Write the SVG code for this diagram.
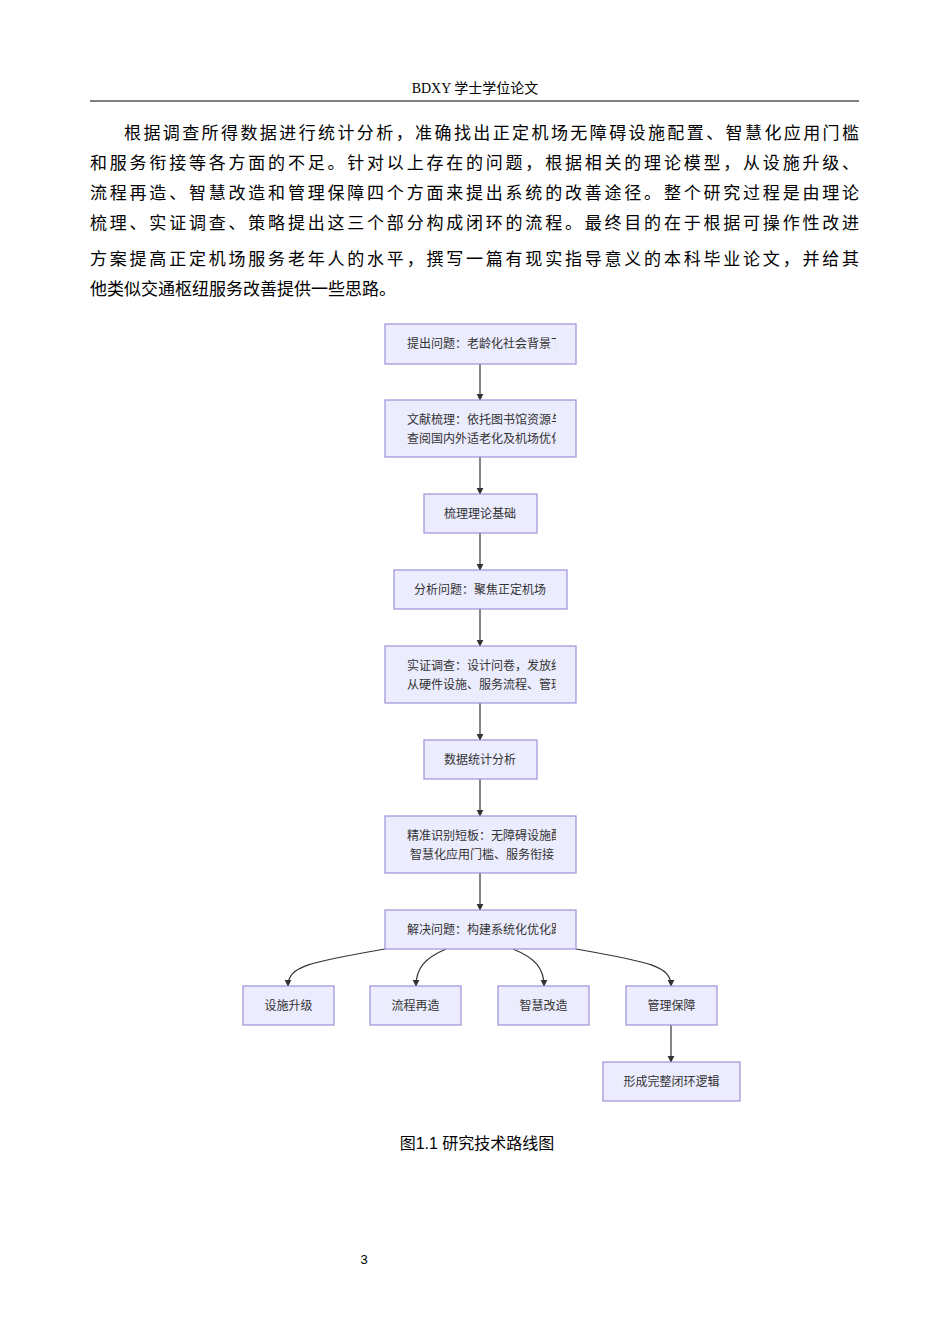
<svg xmlns="http://www.w3.org/2000/svg" width="950" height="1344" viewBox="0 0 950 1344">
<style>
.t{font-family:"Liberation Serif","Noto Sans CJK SC",serif;fill:#000}
.p{font-size:17px}
.n rect{fill:#ECECFF;stroke:#9F8FD8;stroke-width:1.2}
.n text{font-family:"Liberation Sans","Noto Sans CJK SC",sans-serif;font-size:12px;fill:#333}
.e{fill:none;stroke:#333;stroke-width:1.2;marker-end:url(#a)}
</style>
<defs>
<marker id="a" viewBox="0 0 10 10" refX="9" refY="5" markerWidth="6" markerHeight="6" orient="auto"><path d="M0,0L10,5L0,10z" fill="#333"/></marker>
<clipPath id="c1"><rect x="385" y="320" width="171" height="800"/></clipPath>
</defs>
<rect width="950" height="1344" fill="#fff"/>
<text class="t" x="475" y="93" font-size="14" text-anchor="middle">BDXY 学士学位论文</text>
<line x1="90" y1="101" x2="859" y2="101" stroke="#000" stroke-width="1"/>
<g class="t p">
<text x="124" y="139" textLength="735" lengthAdjust="spacing">根据调查所得数据进行统计分析，准确找出正定机场无障碍设施配置、智慧化应用门槛</text>
<text x="90" y="169" textLength="769" lengthAdjust="spacing">和服务衔接等各方面的不足。针对以上存在的问题，根据相关的理论模型，从设施升级、</text>
<text x="90" y="199" textLength="769" lengthAdjust="spacing">流程再造、智慧改造和管理保障四个方面来提出系统的改善途径。整个研究过程是由理论</text>
<text x="90" y="229" textLength="769" lengthAdjust="spacing">梳理、实证调查、策略提出这三个部分构成闭环的流程。最终目的在于根据可操作性改进</text>
<text x="90" y="265" textLength="769" lengthAdjust="spacing">方案提高正定机场服务老年人的水平，撰写一篇有现实指导意义的本科毕业论文，并给其</text>
<text x="90" y="295">他类似交通枢纽服务改善提供一些思路。</text>
</g>
<g id="edges">
<path class="e" d="M480,364V400"/>
<path class="e" d="M480,457V494"/>
<path class="e" d="M480,533V570"/>
<path class="e" d="M480,609V646"/>
<path class="e" d="M480,703V740"/>
<path class="e" d="M480,779V816"/>
<path class="e" d="M480,873V910"/>
<path class="e" d="M385,949C310,962 288,966 288,986"/>
<path class="e" d="M446,949C425,958 416,968 416,986"/>
<path class="e" d="M513,949C535,958 544,968 544,986"/>
<path class="e" d="M576,949C650,962 671,966 671,986"/>
<path class="e" d="M671,1025V1062"/>
</g>
<g id="n1" class="n"><rect x="385" y="324" width="191" height="40"/><text x="407" y="348" clip-path="url(#c1)">提出问题：老龄化社会背景下</text></g>
<g id="n2" class="n"><rect x="385" y="400" width="191" height="57"/><text x="407" y="424" clip-path="url(#c1)">文献梳理：依托图书馆资源与</text><text x="407" y="443" clip-path="url(#c1)">查阅国内外适老化及机场优化</text></g>
<g id="n3" class="n"><rect x="424" y="494" width="113" height="39"/><text x="480" y="518" text-anchor="middle">梳理理论基础</text></g>
<g id="n4" class="n"><rect x="394" y="570" width="173" height="39"/><text x="480" y="594" text-anchor="middle">分析问题：聚焦正定机场</text></g>
<g id="n5" class="n"><rect x="385" y="646" width="191" height="57"/><text x="407" y="670" clip-path="url(#c1)">实证调查：设计问卷，发放线</text><text x="407" y="689" clip-path="url(#c1)">从硬件设施、服务流程、管理</text></g>
<g id="n6" class="n"><rect x="424" y="740" width="113" height="39"/><text x="480" y="764" text-anchor="middle">数据统计分析</text></g>
<g id="n7" class="n"><rect x="385" y="816" width="191" height="57"/><text x="407" y="840" clip-path="url(#c1)">精准识别短板：无障碍设施配</text><text x="410" y="859" clip-path="url(#c1)">智慧化应用门槛、服务衔接</text></g>
<g id="n8" class="n"><rect x="385" y="910" width="191" height="39"/><text x="407" y="934" clip-path="url(#c1)">解决问题：构建系统化优化路径</text></g>
<g id="n9" class="n"><rect x="243" y="986" width="91" height="39"/><text x="288.5" y="1010" text-anchor="middle">设施升级</text></g>
<g id="n10" class="n"><rect x="370" y="986" width="91" height="39"/><text x="415.5" y="1010" text-anchor="middle">流程再造</text></g>
<g id="n11" class="n"><rect x="498" y="986" width="91" height="39"/><text x="543.5" y="1010" text-anchor="middle">智慧改造</text></g>
<g id="n12" class="n"><rect x="626" y="986" width="91" height="39"/><text x="671.5" y="1010" text-anchor="middle">管理保障</text></g>
<g id="n13" class="n"><rect x="603" y="1062" width="137" height="39"/><text x="671.5" y="1086" text-anchor="middle">形成完整闭环逻辑</text></g>
<text x="477" y="1149" font-family="Liberation Sans,Noto Sans CJK SC,sans-serif" font-size="16" text-anchor="middle">图1.1 研究技术路线图</text>
<text x="364" y="1264" font-family="Liberation Sans,sans-serif" font-size="13" text-anchor="middle">3</text>
</svg>
